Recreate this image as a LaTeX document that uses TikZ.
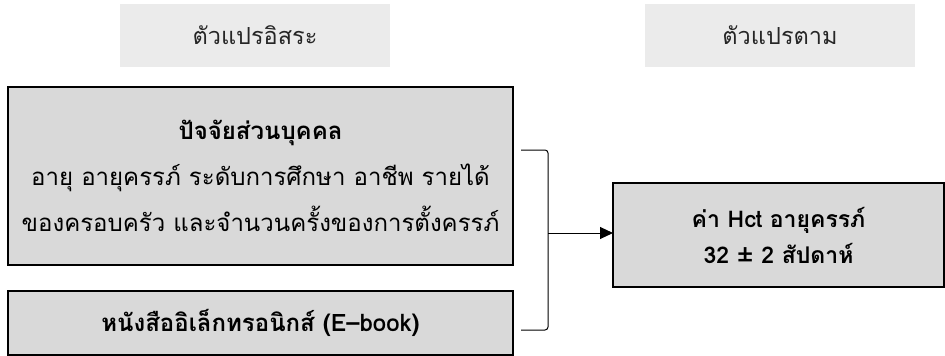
\documentclass[tikz,border=0pt]{standalone}
\usepackage{fontspec}
\setmainfont[Script=Thai]{Loma}
\usetikzlibrary{positioning,arrows.meta}
\definecolor{headgray}{HTML}{EBEBEB}
\definecolor{boxgray}{HTML}{D9D9D9}

\begin{document}
\begin{tikzpicture}
    [
    x=1pt, y=-1pt,
    every node/.style={inner sep=0pt, outer sep=0pt},
    every header/.style={fill=headgray, minimum width=270pt, minimum height=63pt,
        font=\fontsize{23.5}{26}\selectfont, text=black!85},
    every factor/.style={fill=boxgray, draw=black, line width=1.6pt, align=center,
        font=\fontsize{24}{46}\selectfont},
    header/.style={every header},
    factor/.style={every factor},
    bracket/.style={line width=1pt},
    ]

    \useasboundingbox (0,0) rectangle (945,356);

    \node[header] (head_indep) at (255,35.5) {ตัวแปรอิสระ};
    \node[header] (head_dep) at (780,35.5) {ตัวแปรตาม};

    \node[factor, minimum width=505pt, minimum height=178pt] (box_person) at (260.5,176)
    {\textbf{ปัจจัยส่วนบุคคล}\\
     อายุ อายุครรภ์ ระดับการศึกษา อาชีพ รายได้\\
     ของครอบครัว และจำนวนครั้งของการตั้งครรภ์};

    \node[factor, minimum width=505pt, minimum height=64pt] (box_ebook) at (260.5,323)
    {\textbf{หนังสืออิเล็กทรอนิกส์ (E–book)}};

    \node[factor, minimum width=331pt, minimum height=104pt,
        font=\fontsize{23}{36}\selectfont] (box_hct) at (778.5,235)
    {\textbf{ค่า Hct อายุครรภ์}\\ \textbf{32 ± 2 สัปดาห์}};

    % bracket joining both factors
    \coordinate (br_top) at (521,150);
    \coordinate (br_bot) at (521,330);
    \coordinate (br_mid) at (548,233);
    \draw[bracket, rounded corners=3pt] (br_top) -- (br_top -| br_mid) -- (br_bot -| br_mid) -- (br_bot);
    \draw[bracket, -{Triangle[length=13pt, width=12pt]}] (br_mid) -- (br_mid -| box_hct.west);
\end{tikzpicture}
\end{document}
